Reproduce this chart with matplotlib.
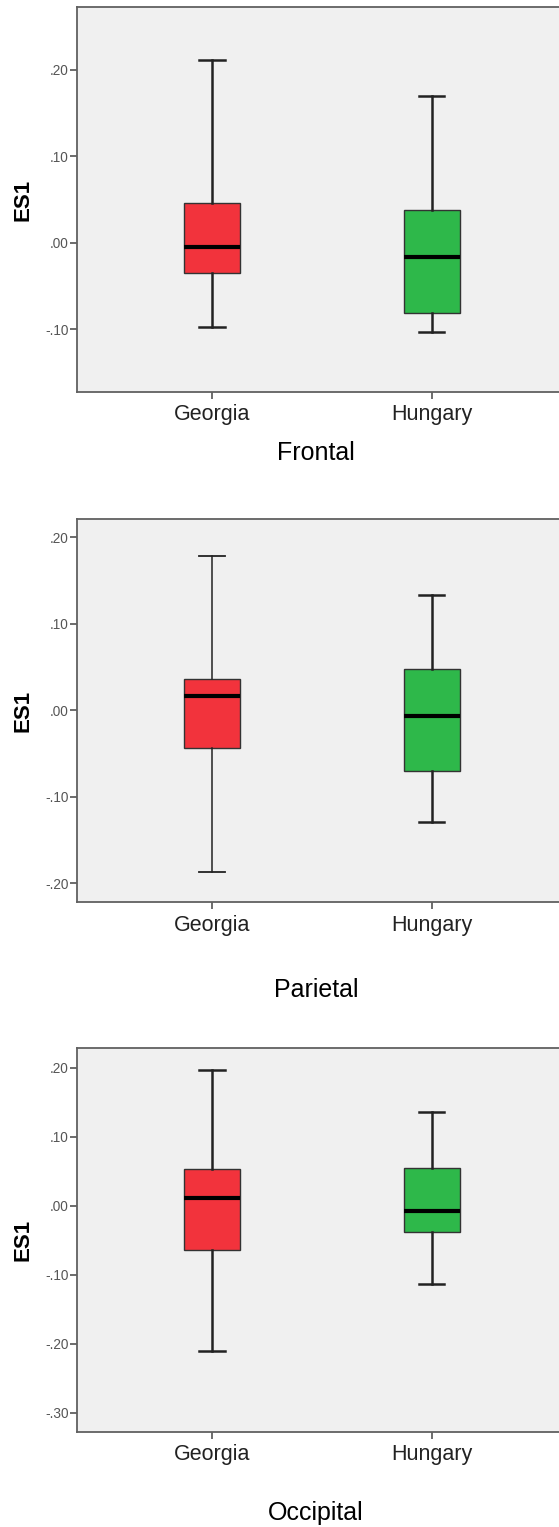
import matplotlib
matplotlib.use("Agg")
import matplotlib.pyplot as plt
from matplotlib.ticker import FuncFormatter

plt.rcParams['font.family'] = ['Liberation Sans', 'DejaVu Sans']

groups = ["Georgia", "Hungary"]
regions = ["Frontal", "Parietal", "Occipital"]

# five-number summaries per region: [low whisker, Q1, median, Q3, high whisker]
frontal_georgia = [-0.098, -0.0355, -0.005, 0.0456, 0.211]
frontal_hungary = [-0.104, -0.0815, -0.017, 0.0375, 0.170]
parietal_georgia = [-0.1875, -0.044, 0.017, 0.0363, 0.1786]
parietal_hungary = [-0.129, -0.0698, -0.0066, 0.0478, 0.1335]
occipital_georgia = [-0.211, -0.0647, 0.0106, 0.0526, 0.197]
occipital_hungary = [-0.113, -0.0386, -0.0072, 0.054, 0.136]

y_limits = [(-0.1726, 0.2726), (-0.2222, 0.2214), (-0.3272, 0.2278)]
y_ticks = [[-0.1, 0.0, 0.1, 0.2],
           [-0.2, -0.1, 0.0, 0.1, 0.2],
           [-0.3, -0.2, -0.1, 0.0, 0.1, 0.2]]

box_colors = ["#F2333C", "#2EB84A"]

panel_data = [
    (frontal_georgia, frontal_hungary),
    (parietal_georgia, parietal_hungary),
    (occipital_georgia, occipital_hungary),
]


def spss_fmt(v, pos):
    s = f"{v:.2f}"
    return s.replace("0.", ".", 1)


W, H = 559, 1527
fig = plt.figure(figsize=(W / 100, H / 100), dpi=100)

# axes tops/bottoms in pixels
ax_boxes = [(7.3, 391.7), (519.0, 902.3), (1048.3, 1431.7)]
label_y = [453, 990, 1513]
left_px, right_px = 77.3, 566.0

for i, (region, data) in enumerate(zip(regions, panel_data)):
    top, bot = ax_boxes[i]
    ax = fig.add_axes([left_px / W, 1 - bot / H, (right_px - left_px) / W, (bot - top) / H])
    ax.set_facecolor("#F0F0F0")

    stats = []
    for name, v in zip(groups, data):
        stats.append({"label": name, "whislo": v[0], "q1": v[1], "med": v[2],
                      "q3": v[3], "whishi": v[4], "fliers": []})

    art = ax.bxp(stats, positions=[1, 2], widths=0.2545, capwidths=0.117,
                 patch_artist=True, showfliers=False,
                 boxprops=dict(edgecolor="#333333", linewidth=1.0),
                 whiskerprops=dict(color="#222222", linewidth=1.8),
                 capprops=dict(color="#222222", linewidth=1.8),
                 medianprops=dict(color="black", linewidth=3))
    for patch, c in zip(art["boxes"], box_colors):
        patch.set_facecolor(c)
    if region == "Parietal":
        for w in art["whiskers"][:2]:
            w.set_linewidth(1.1)
        for c in art["caps"][:2]:
            c.set_linewidth(1.3)

    ax.set_xlim(0.389, 2.611)
    ax.set_ylim(*y_limits[i])
    ax.set_yticks(y_ticks[i])
    ax.yaxis.set_major_formatter(FuncFormatter(spss_fmt))

    for side in ["left", "bottom", "top"]:
        ax.spines[side].set_color("#606060")
        ax.spines[side].set_linewidth(1.3)
    ax.spines["right"].set_visible(False)

    ax.tick_params(axis="y", length=5, width=1.1, color="#444444", pad=1,
                   labelsize=9.8, labelcolor="#555555")
    ax.tick_params(axis="x", length=5, width=1.1, color="#444444", pad=4,
                   labelsize=15.5, labelcolor="#222222")

    ax.set_ylabel("ES1", fontsize=16, fontweight="bold")
    ax.yaxis.set_label_coords(-(left_px - 33.0) / (right_px - left_px), 0.5)

    fig.text(316 / W, 1 - label_y[i] / H, region, fontsize=18,
             ha="center", va="center", color="black")

fig.savefig("out.png", dpi=100)
